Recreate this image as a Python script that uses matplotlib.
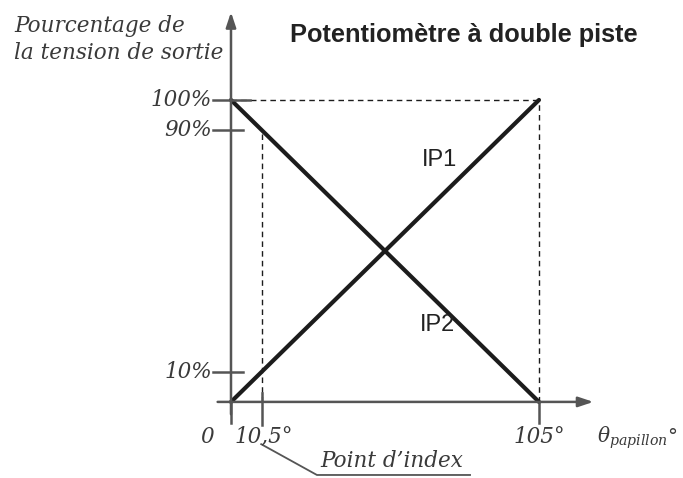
import matplotlib.pyplot as plt

# data
angles = [0, 10.5, 105]          # throttle angle, degrees
ip1 = [0, 10, 100]               # % of output voltage, track IP1
ip2 = [100, 90, 0]               # % of output voltage, track IP2
y_ticks = [10, 90, 100]
y_tick_labels = ['10%', '90%', '100%']
x_ticks = [0, 10.5, 105]
x_tick_labels = ['0', '10,5°', '105°']

serif = ['DejaVu Serif']
sans = ['Liberation Sans', 'DejaVu Sans']
grey = '#555555'
ink = '#1c1c1c'
txt = '#3a3a3a'

plt.rcParams['mathtext.fontset'] = 'dejavuserif'

fig = plt.figure(figsize=(6.83, 4.78), dpi=100)
ax = fig.add_axes([0, 0, 1, 1])
# axes fill the whole figure, limits chosen so the origin sits where it is in the picture
ax.set_xlim(-78.75, 154.1)
ax.set_ylim(-25.2, 133.1)
ax.axis('off')

# axes with arrows
ax.annotate('', xy=(0, 130), xytext=(0, -5),
            arrowprops=dict(arrowstyle='-|>,head_length=0.9,head_width=0.3', color=grey, lw=1.8))
ax.annotate('', xy=(124.5, 0), xytext=(-5.5, 0),
            arrowprops=dict(arrowstyle='-|>,head_length=0.9,head_width=0.3', color=grey, lw=1.8))

# dashed guides
ax.plot([0, angles[2]], [ip2[0], ip2[0]], ls=(0, (4, 3)), color=ink, lw=1)
ax.plot([angles[2], angles[2]], [0, ip1[2]], ls=(0, (4, 3)), color=ink, lw=1)
ax.plot([angles[1], angles[1]], [0, ip2[1]], ls=(0, (4, 3)), color=ink, lw=1)

# the two tracks
ax.plot(angles, ip1, color=ink, lw=3, solid_capstyle='round')
ax.plot(angles, ip2, color=ink, lw=3, solid_capstyle='round')

# y ticks and labels
for v, lab in zip(y_ticks, y_tick_labels):
    ax.plot([-6, 4 if v != 100 else 6.5], [v, v], color=grey, lw=1.8)
    ax.text(-6.5, v, lab, ha='right', va='center', fontsize=15.5,
            family=serif, style='italic', color=txt)

# x ticks and labels
for v in x_ticks:
    ax.plot([v, v], [-7 if v != 10.5 else -7.5, 3 if v == 10.5 else 0], color=grey, lw=1.8)
ax.text(-8, -11.5, x_tick_labels[0], ha='center', va='center', fontsize=15.5,
        family=serif, style='italic', color=txt)
ax.text(11.3, -11.5, x_tick_labels[1], ha='center', va='center', fontsize=15.5,
        family=serif, style='italic', color=txt)
ax.text(105, -11.5, x_tick_labels[2], ha='center', va='center', fontsize=15.5,
        family=serif, style='italic', color=txt)

ax.text(124.8, -12, r'$\theta_{papillon}$°', ha='left', va='center', fontsize=14.5, color=txt)

# axis title
ax.text(-74, 120, 'Pourcentage de\nla tension de sortie', ha='left', va='center',
        fontsize=15.5, family=serif, style='italic', color=txt, linespacing=1.25)

# chart title
ax.text(20, 121.5, 'Potentiomètre à double piste', ha='left', va='center',
        fontsize=18.3, family=sans, weight='bold', color='#222222')

# curve names
ax.text(71, 80, 'IP1', ha='center', va='center', fontsize=17, family=sans, color='#222222')
ax.text(70.5, 25.5, 'IP2', ha='center', va='center', fontsize=17, family=sans, color='#222222')

# index point callout
ax.plot([10.3, 29.3, 81.5], [-14, -24.2, -24.2], color=grey, lw=1.3)
ax.text(30.5, -23.3, 'Point d’index', ha='left', va='bottom', fontsize=15.5,
        family=serif, style='italic', color=txt)

fig.savefig('out.png', dpi=100)
